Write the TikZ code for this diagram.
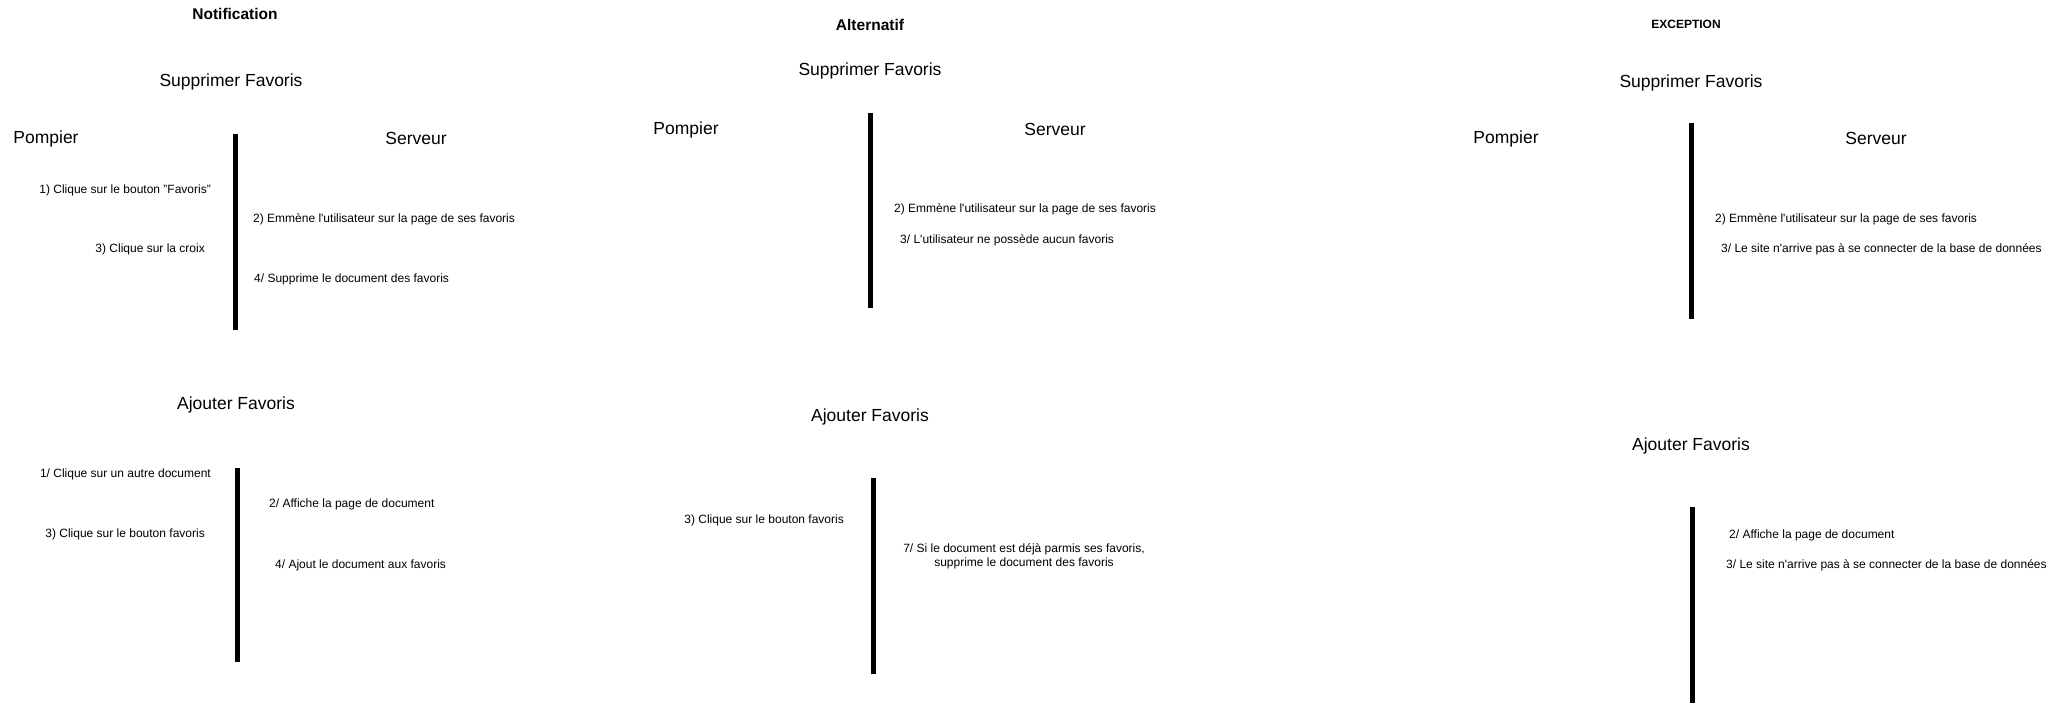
\documentclass[tikz,border=0pt]{standalone}
\usepackage{fontspec}
\setmainfont{Liberation Sans}
\begin{document}
\begin{tikzpicture}[x=1pt,y=-1pt,
  small/.style={font=\fontsize{12}{14}\selectfont, inner sep=0pt, yshift=-1pt},
  big/.style={font=\fontsize{17.5}{20}\selectfont, inner sep=0pt, yshift=-2.5pt},
  ttl/.style={font=\bfseries\fontsize{15.5}{18}\selectfont, inner sep=0pt, yshift=-0.5pt},
  ttlsmall/.style={font=\bfseries\fontsize{12}{14}\selectfont, inner sep=0pt},
  bar/.style={line width=5pt}]
\useasboundingbox[fill=white] (0,0) rectangle (2055,707);

% ---------- Notification ----------
\node[ttl] (ttl1) at (235,13) {Notification};
\node[big] (sf1) at (231,79) {Supprimer Favoris};
\node[big] (pomp1) at (46,136) {Pompier};
\node[big] (serv1) at (416,136) {Serveur};
\coordinate (b1t) at (235,134); \coordinate (b1b) at (235,330);
\draw[bar] (b1t) -- (b1b);
\node[small,anchor=east] (t1a) at (211,189) {1) Clique sur le bouton "Favoris"};
\node[small,anchor=west] (t1b) at (253,218) {2) Emmène l\textquotesingle utilisateur sur la page de ses favoris};
\node[small,anchor=east] (t1c) at (205,248) {3) Clique sur la croix};
\node[small,anchor=west] (t1d) at (254,278) {4/ Supprime le document des favoris};

\node[big] (af1) at (236,402) {Ajouter Favoris};
\coordinate (b2t) at (237,468); \coordinate (b2b) at (237,662);
\draw[bar] (b2t) -- (b2b);
\node[small,anchor=east] (a1a) at (211,473) {1/ Clique sur un autre document};
\node[small,anchor=west] (a1b) at (269,503) {2/ Affiche la page de document};
\node[small,anchor=east] (a1c) at (205,533) {3) Clique sur le bouton favoris};
\node[small,anchor=west] (a1d) at (275,564) {4/ Ajout le document aux favoris};

% ---------- Alternatif ----------
\node[ttl] (ttl2) at (870,24) {Alternatif};
\node[big] (sf2) at (870,68) {Supprimer Favoris};
\node[big] (pomp2) at (686,127) {Pompier};
\node[big] (serv2) at (1055,127) {Serveur};
\coordinate (b3t) at (870,113); \coordinate (b3b) at (870,308);
\draw[bar] (b3t) -- (b3b);
\node[small,anchor=west] (s2a) at (894,208) {2) Emmène l\textquotesingle utilisateur sur la page de ses favoris};
\node[small,anchor=west] (s2b) at (900,239) {3/ L\textquotesingle utilisateur ne possède aucun favoris};

\node[big] (af2) at (870,414) {Ajouter Favoris};
\coordinate (b4t) at (873,478); \coordinate (b4b) at (873,674);
\draw[bar] (b4t) -- (b4b);
\node[small,anchor=east] (a2a) at (844,519) {3) Clique sur le bouton favoris};
\node[small,align=center] (a2b) at (1024,555) {7/ Si le document est déjà parmis ses favoris,\\supprime le document des favoris};

% ---------- Exception ----------
\node[ttlsmall] (ttl3) at (1686,24) {EXCEPTION};
\node[big] (sf3) at (1691,80) {Supprimer Favoris};
\node[big] (pomp3) at (1506,136) {Pompier};
\node[big] (serv3) at (1876,136) {Serveur};
\coordinate (b5t) at (1691,123); \coordinate (b5b) at (1691,319);
\draw[bar] (b5t) -- (b5b);
\node[small,anchor=west] (s3a) at (1715,218) {2) Emmène l\textquotesingle utilisateur sur la page de ses favoris};
\node[small,anchor=west] (s3b) at (1721,248) {3/ Le site n\textquotesingle arrive pas à se connecter de la base de données};

\node[big] (af3) at (1691,443) {Ajouter Favoris};
\coordinate (b6t) at (1692,507); \coordinate (b6b) at (1692,703);
\draw[bar] (b6t) -- (b6b);
\node[small,anchor=west] (a3a) at (1729,534) {2/ Affiche la page de document};
\node[small,anchor=west] (a3b) at (1726,564) {3/ Le site n\textquotesingle arrive pas à se connecter de la base de données};
\end{tikzpicture}
\end{document}
